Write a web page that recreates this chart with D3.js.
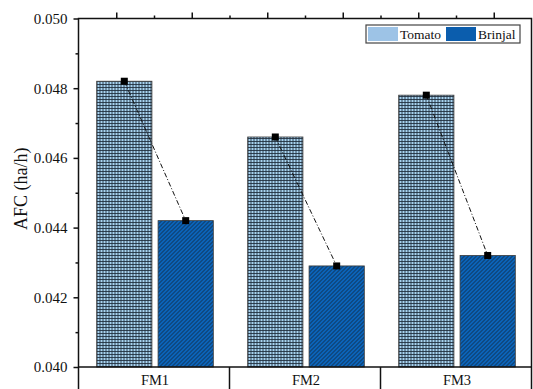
<!DOCTYPE html>
<html>
<head>
<meta charset="utf-8">
<script src="https://cdn.jsdelivr.net/npm/d3@7"></script>
<style>
  html, body { margin: 0; padding: 0; background: #fff; }
  svg { display: block; }
  text { font-family: "Liberation Serif", "Times New Roman", serif; fill: #111; }
</style>
</head>
<body>
<svg id="chart" width="533" height="389"></svg>
<script>
// Data
const categories = ["FM1", "FM2", "FM3"];
const series = ["Tomato", "Brinjal"];
const tomato = [0.0482, 0.0466, 0.0478];
const brinjal = [0.0442, 0.0429, 0.0432];
const yTicks = [0.040, 0.042, 0.044, 0.046, 0.048, 0.050];
const yMinorTicks = [0.041, 0.043, 0.045, 0.047, 0.049];
const topMajorTicks = [0.75, 1.25, 1.75, 2.25, 2.75, 3.25];
const topMinorTicks = [1, 1.5, 2, 2.5, 3];
const yLabel = "AFC (ha/h)";

const values = { Tomato: tomato, Brinjal: brinjal };
const colors = { Tomato: "#9dc3e6", Brinjal: "#0b5dad" };

const svg = d3.select("#chart");
const plot = { left: 78.5, right: 531.5, top: 18.5, bottom: 367 };

// Fill patterns: fine grid for Tomato, diagonal hatch for Brinjal
const defs = svg.append("defs");
const grid = defs.append("pattern")
  .attr("id", "pat-Tomato").attr("patternUnits", "userSpaceOnUse")
  .attr("width", 3).attr("height", 3);
grid.append("rect").attr("width", 3).attr("height", 3).attr("fill", "#a8d3f0");
grid.append("path").attr("d", "M0,0.5H3M0.5,0V3")
  .attr("stroke", "#1d2b3a").attr("stroke-width", 1).attr("stroke-opacity", 0.85);

const hatch = defs.append("pattern")
  .attr("id", "pat-Brinjal").attr("patternUnits", "userSpaceOnUse")
  .attr("width", 4).attr("height", 4);
hatch.append("rect").attr("width", 4).attr("height", 4).attr("fill", "#0b63b8");
hatch.append("path").attr("d", "M-1,1L1,-1M0,4L4,0M3,5L5,3")
  .attr("stroke", "#10304f").attr("stroke-width", 1);

// Scales
const y = d3.scaleLinear().domain([0.040, 0.050]).range([plot.bottom, plot.top]);
const x0 = d3.scaleBand().domain(categories).range([plot.left, plot.right]).padding(0);
const x1 = d3.scaleBand().domain(series).range([0, x0.bandwidth()])
  .paddingInner(0.1).paddingOuter(0.28);
const xTop = d3.scaleLinear().domain([0.5, 3.5]).range([plot.left, plot.right]);

// Bars
const groups = svg.append("g").selectAll("g").data(categories).join("g")
  .attr("transform", d => `translate(${x0(d)},0)`);

groups.selectAll("rect")
  .data((c, i) => series.map(s => ({ s, v: values[s][i] })))
  .join("rect")
  .attr("x", d => x1(d.s) + 1)
  .attr("y", d => y(d.v))
  .attr("width", x1.bandwidth())
  .attr("height", d => plot.bottom - y(d.v))
  .attr("fill", d => `url(#pat-${d.s})`)
  .attr("stroke", "#3a3a3a")
  .attr("stroke-width", 0.8);

// Dash-dot connectors with square markers at bar tops
categories.forEach((c, i) => {
  const pts = series.map(s => [x0(c) + x1(s) + 1 + x1.bandwidth() / 2, y(values[s][i])]);
  svg.append("path")
    .attr("d", d3.line()(pts))
    .attr("fill", "none")
    .attr("stroke", "#111")
    .attr("stroke-width", 1)
    .attr("stroke-dasharray", "5,2,1,2");
  svg.append("g").selectAll("rect").data(pts).join("rect")
    .attr("x", p => p[0] - 3.5).attr("y", p => p[1] - 3.5)
    .attr("width", 7).attr("height", 7).attr("fill", "#000");
});

// Left axis with major and minor ticks
const yAxis = svg.append("g").attr("transform", `translate(${plot.left},0)`)
  .call(d3.axisLeft(y).tickValues(yTicks).tickFormat(d3.format(".3f")).tickSize(5).tickPadding(6));
yAxis.select(".domain").remove();
yAxis.selectAll("line").attr("stroke", "#111").attr("stroke-width", 1.5);
yAxis.selectAll("text").style("font-size", "15px").attr("fill", "#111");
svg.append("g").attr("transform", `translate(${plot.left},0)`)
  .call(d3.axisLeft(y).tickValues(yMinorTicks).tickFormat("").tickSize(3))
  .call(g => g.select(".domain").remove())
  .selectAll("line").attr("stroke", "#111").attr("stroke-width", 1.5);

// Top axis ticks
const topAxis = svg.append("g").attr("transform", `translate(0,${plot.top})`)
  .call(d3.axisTop(xTop).tickValues(topMajorTicks).tickFormat("").tickSize(6));
topAxis.select(".domain").remove();
topAxis.selectAll("line").attr("stroke", "#111").attr("stroke-width", 1.5);
svg.append("g").attr("transform", `translate(0,${plot.top})`)
  .call(d3.axisTop(xTop).tickValues(topMinorTicks).tickFormat("").tickSize(3))
  .call(g => g.select(".domain").remove())
  .selectAll("line").attr("stroke", "#111").attr("stroke-width", 1.5);

// Frame
svg.append("path")
  .attr("d", `M${plot.left},389V${plot.top}H${plot.right}V389`)
  .attr("fill", "none").attr("stroke", "#111").attr("stroke-width", 1.5);
svg.append("line")
  .attr("x1", plot.left).attr("x2", plot.right)
  .attr("y1", plot.bottom).attr("y2", plot.bottom)
  .attr("stroke", "#111").attr("stroke-width", 1.5);

// Category boxes below the axis
svg.append("g").selectAll("line").data(categories.slice(1)).join("line")
  .attr("x1", d => x0(d)).attr("x2", d => x0(d))
  .attr("y1", plot.bottom).attr("y2", 389)
  .attr("stroke", "#111").attr("stroke-width", 1.5);
svg.append("g").selectAll("text").data(categories).join("text")
  .attr("x", d => x0(d) + x0.bandwidth() / 2 + 1)
  .attr("y", 385)
  .attr("text-anchor", "middle")
  .style("font-size", "14.5px")
  .text(d => d);

// Y axis title
svg.append("text")
  .attr("transform", `translate(27,${(plot.top + plot.bottom) / 2 - 4}) rotate(-90)`)
  .attr("text-anchor", "middle")
  .style("font-size", "18px")
  .text(yLabel);

// Legend
const legend = svg.append("g").attr("transform", "translate(366,25)");
legend.append("rect").attr("width", 154).attr("height", 18)
  .attr("fill", "#fff").attr("stroke", "#444").attr("stroke-width", 1.2);
const legendX = { Tomato: 2, Brinjal: 80 };
series.forEach(s => {
  legend.append("rect").attr("x", legendX[s]).attr("y", 2)
    .attr("width", 30).attr("height", 14).attr("fill", colors[s]);
  legend.append("text").attr("x", legendX[s] + 32).attr("y", 14)
    .style("font-size", "13.5px").text(s);
});
</script>
</body>
</html>
